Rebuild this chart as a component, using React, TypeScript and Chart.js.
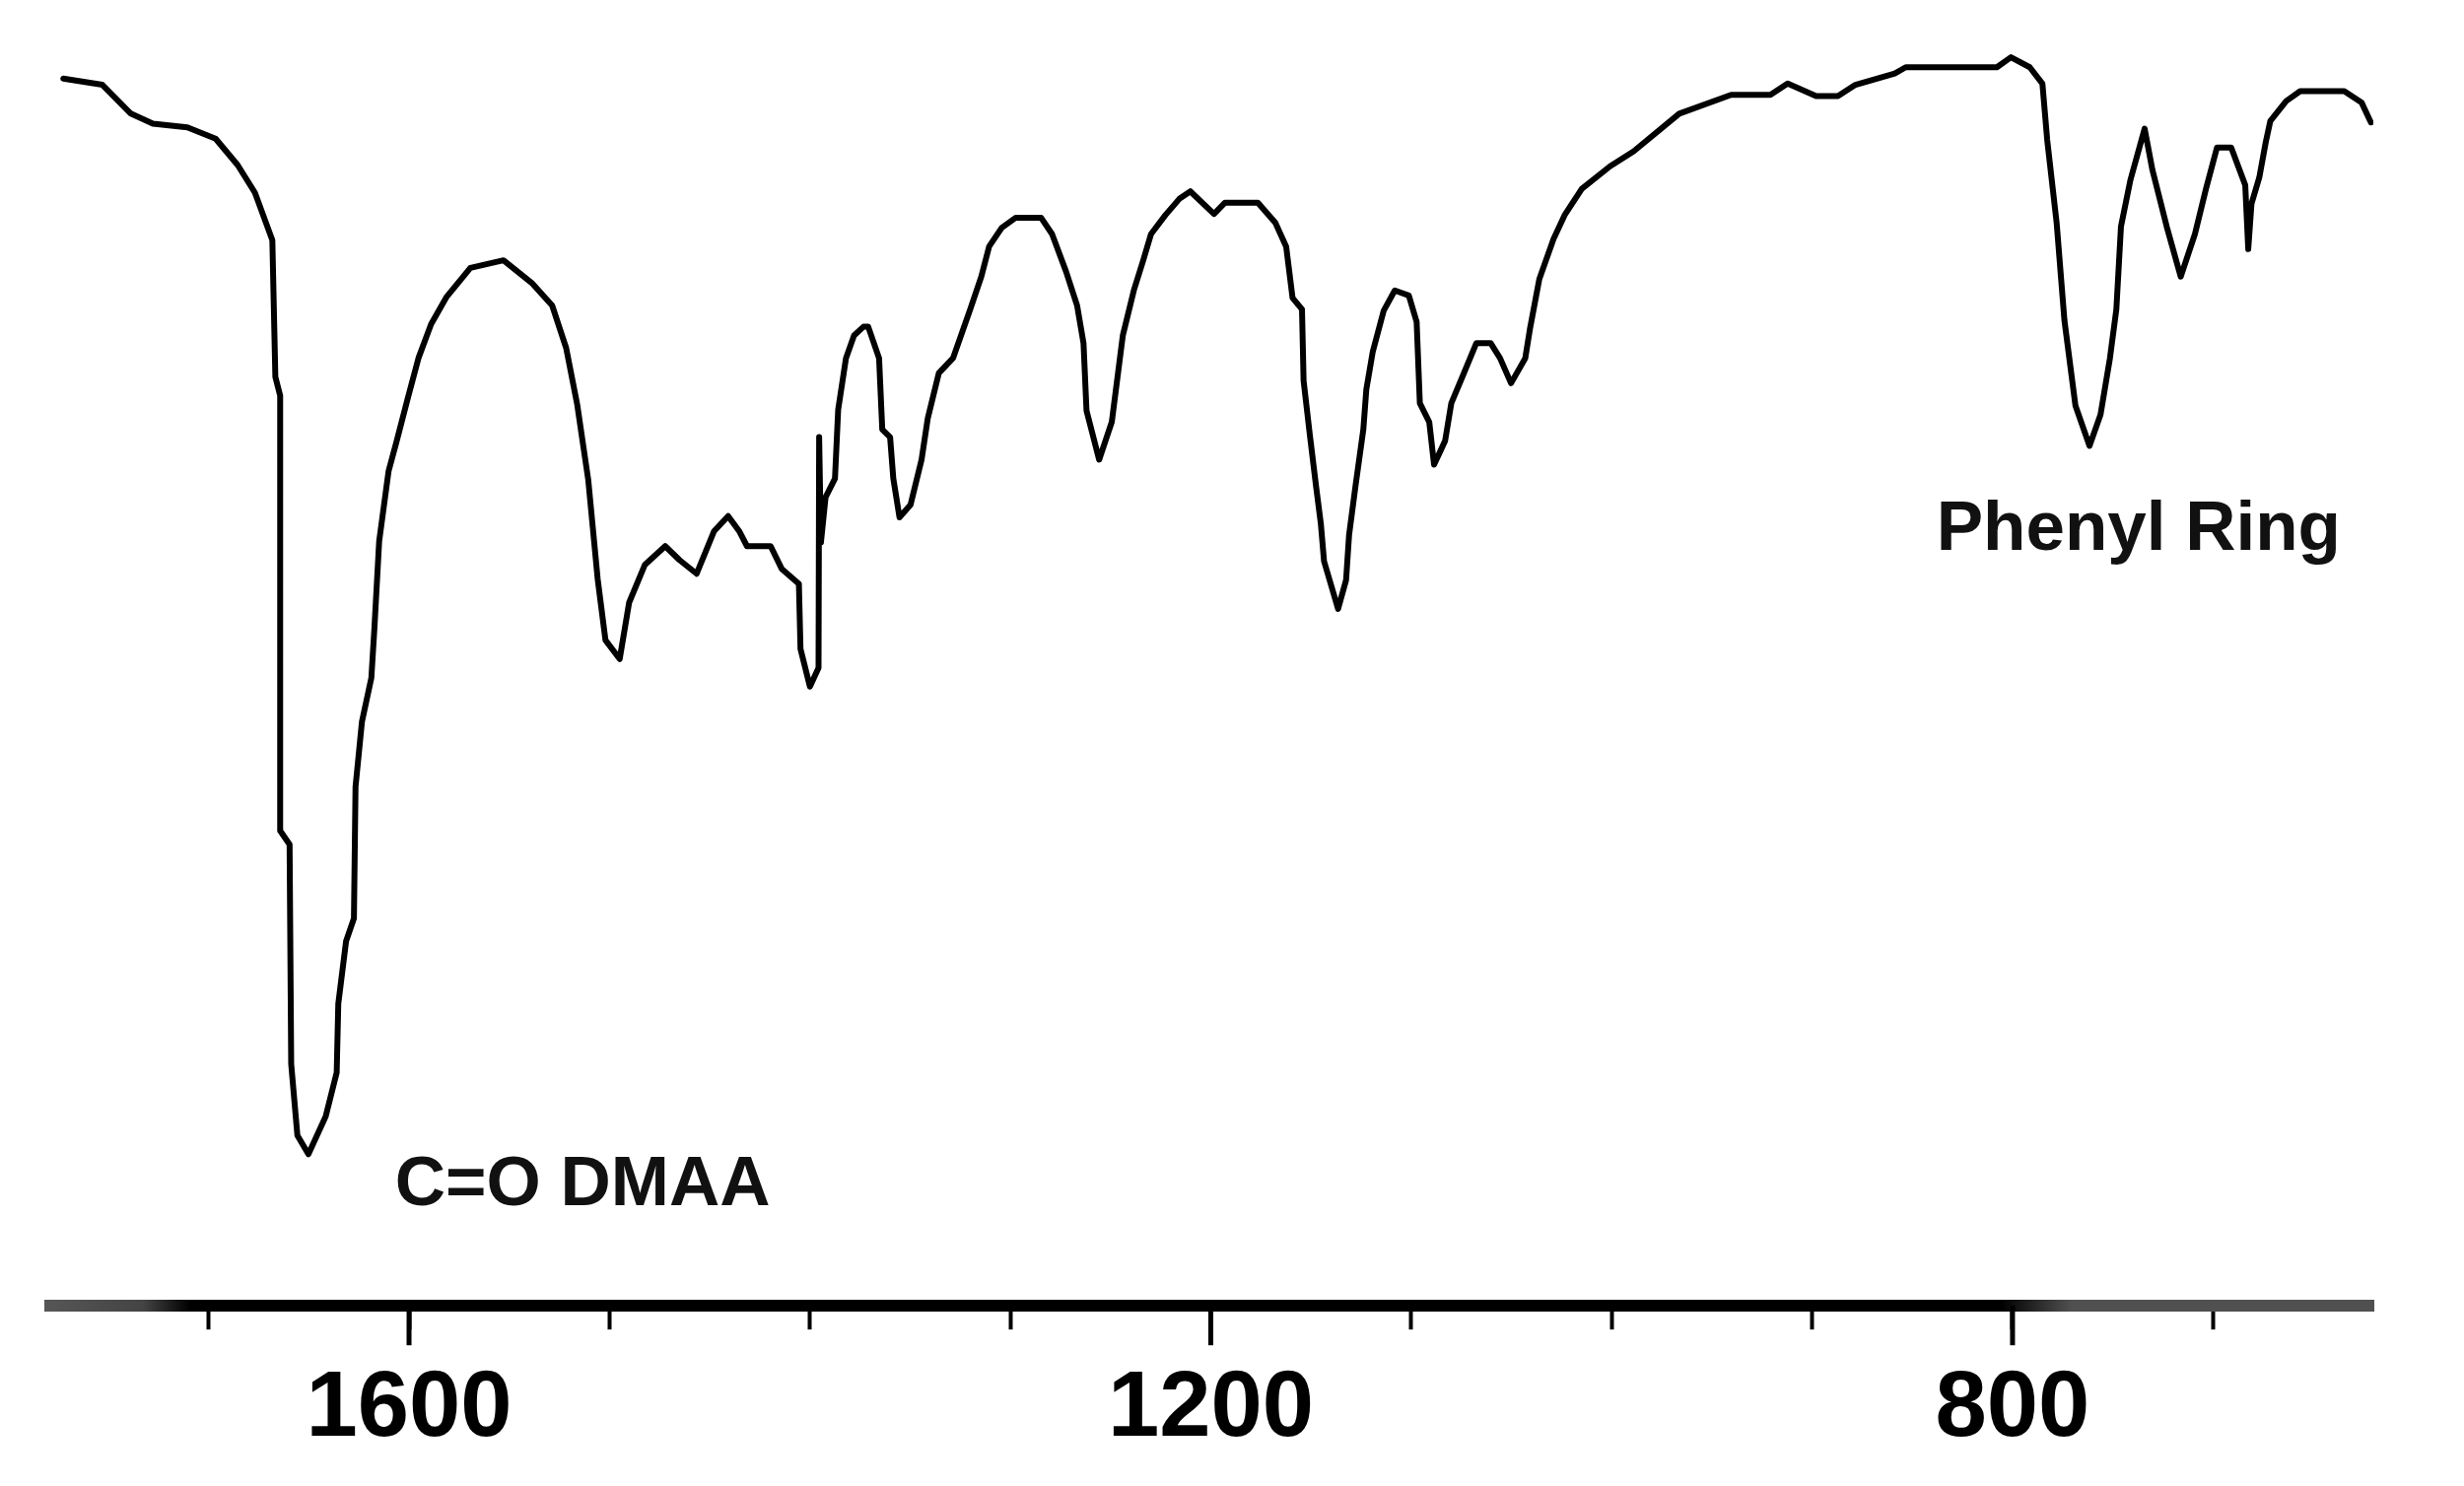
import React, { useEffect, useRef } from "react";
import { Chart, registerables } from "chart.js";

Chart.register(...registerables);

// Wavenumber (cm-1) of each traced point of the spectrum
const WAVENUMBER = [
  1772.5, 1753.0, 1738.8, 1727.8, 1710.6, 1696.5, 1685.5, 1676.9, 1668.2, 1666.7,
  1664.3, 1664.3, 1664.3, 1659.6, 1658.8, 1655.7, 1650.2, 1641.6, 1636.1, 1635.3,
  1631.4, 1627.5, 1626.7, 1623.5, 1618.8, 1617.3, 1614.9, 1610.2, 1606.3, 1600.8,
  1595.3, 1589.0, 1581.2, 1569.4, 1552.9, 1538.8, 1528.6, 1521.6, 1516.1, 1510.6,
  1505.9, 1502.0, 1494.9, 1490.2, 1482.4, 1472.2, 1465.1, 1456.5, 1447.8, 1440.8,
  1435.3, 1431.4, 1419.6, 1414.1, 1405.5, 1404.7, 1400.0, 1395.7, 1395.4, 1394.5,
  1392.2, 1387.5, 1385.9, 1382.0, 1378.0, 1373.3, 1370.9, 1365.5, 1363.9, 1360.0,
  1358.4, 1355.3, 1349.8, 1344.3, 1341.2, 1335.7, 1328.6, 1320.0, 1314.5, 1310.6,
  1304.3, 1297.3, 1284.7, 1279.2, 1272.2, 1266.7, 1263.5, 1262.0, 1255.7, 1249.4,
  1243.9, 1238.4, 1233.7, 1229.8, 1222.7, 1215.7, 1210.2, 1198.4, 1192.9, 1176.5,
  1167.8, 1162.4, 1159.2, 1154.5, 1153.7, 1150.6, 1147.5, 1145.1, 1143.5, 1136.5,
  1132.5, 1131.0, 1127.8, 1123.9, 1122.4, 1119.2, 1113.7, 1108.2, 1101.2, 1097.3,
  1095.7, 1091.0, 1088.6, 1083.1, 1080.0, 1074.5, 1067.5, 1060.4, 1055.7, 1050.2,
  1043.1, 1040.8, 1036.1, 1029.0, 1023.5, 1014.9, 1000.8, 989.0, 966.3, 940.4,
  920.8, 912.2, 898.0, 887.1, 878.4, 858.8, 853.3, 807.8, 800.8, 791.4,
  785.1, 782.7, 778.0, 774.1, 768.6, 761.6, 756.1, 751.4, 748.2, 745.9,
  741.2, 734.1, 730.2, 723.1, 716.1, 709.0, 703.5, 698.0, 690.9, 683.9,
  682.4, 680.8, 676.9, 673.7, 671.4, 663.5, 656.5, 634.5, 625.9, 621.2,
];

// Transmittance (arbitrary %) at each wavenumber above
const TRANSMITTANCE = [
  97.9, 97.4, 95.1, 94.3, 94.0, 93.1, 91.0, 88.8, 85.0, 74.1,
  72.6, 57.1, 37.9, 36.8, 19.3, 13.6, 12.1, 15.1, 18.6, 24.1,
  29.1, 30.9, 41.4, 46.6, 50.1, 54.0, 61.0, 66.6, 68.9, 72.3,
  75.6, 78.3, 80.5, 82.8, 83.4, 81.6, 79.8, 76.4, 71.9, 65.9,
  58.0, 53.1, 51.6, 56.1, 59.1, 60.6, 59.5, 58.4, 61.8, 63.0,
  61.8, 60.6, 60.6, 58.8, 57.6, 52.4, 49.4, 50.9, 69.3, 60.9,
  64.5, 66.0, 71.5, 75.6, 77.4, 78.1, 78.1, 75.6, 69.9, 69.3,
  66.0, 62.9, 63.9, 67.5, 70.8, 74.4, 75.6, 79.5, 82.1, 84.5,
  86.0, 86.8, 86.8, 85.5, 82.5, 79.8, 76.8, 71.4, 67.5, 70.5,
  77.4, 81.0, 83.4, 85.5, 87.0, 88.3, 88.9, 87.1, 88.0, 88.0,
  86.4, 84.5, 80.4, 79.5, 73.8, 69.5, 65.4, 62.4, 59.4, 55.6,
  57.9, 61.5, 65.4, 69.9, 73.1, 76.1, 79.4, 81.0, 80.6, 78.5,
  72.0, 70.5, 67.1, 69.0, 72.0, 74.1, 76.8, 76.8, 75.6, 73.6,
  75.6, 77.9, 81.9, 85.1, 87.0, 89.1, 90.9, 92.1, 95.1, 96.6,
  96.6, 97.5, 96.5, 96.5, 97.4, 98.3, 98.8, 98.8, 99.6, 98.8,
  97.5, 93.0, 86.4, 78.6, 71.8, 68.6, 71.1, 75.6, 79.5, 86.1,
  89.8, 93.9, 90.6, 86.1, 82.1, 85.5, 89.1, 92.4, 92.4, 89.4,
  84.3, 87.9, 90.0, 92.8, 94.5, 96.1, 96.9, 96.9, 96.0, 94.4,
];

// Axis ticks
const TICK_VALUES = [1700, 1600, 1500, 1400, 1300, 1200, 1100, 1000, 900, 800, 700];
const MAJOR_TICKS = [1600, 1200, 800];

// Annotation texts and their anchor (wavenumber, transmittance)
const ANNOTATION_TEXT = ["C=O DMAA", "Phenyl Ring"];
const ANNOTATION_X = [1607, 838];
const ANNOTATION_Y = [8.0, 60.3];

const X_MIN = 620;
const X_MAX = 1779;

export default function App() {
  const canvasRef = useRef<HTMLCanvasElement | null>(null);

  useEffect(() => {
    const canvas = canvasRef.current;
    if (!canvas) return;
    const ctx = canvas.getContext("2d");
    if (!ctx) return;

    const grad = ctx.createLinearGradient(51, 0, 2408, 0);
    grad.addColorStop(0, "#555");
    grad.addColorStop(0.04, "#444");
    grad.addColorStop(0.06, "#000");
    grad.addColorStop(0.84, "#000");
    grad.addColorStop(0.87, "#505050");
    grad.addColorStop(1, "#505050");

    const overlay = {
      id: "overlay",
      afterDraw(chart: any) {
        const c = chart.ctx;
        const xs = chart.scales.x;
        const ys = chart.scales.y;
        const bottom = chart.chartArea.bottom;
        c.save();
        c.strokeStyle = "#000";
        c.lineWidth = 5;
        MAJOR_TICKS.forEach((v) => {
          const px = xs.getPixelForValue(v);
          c.beginPath();
          c.moveTo(px, bottom);
          c.lineTo(px, bottom + 40);
          c.stroke();
        });
        c.fillStyle = "#111";
        c.font = 'bold 71px "Liberation Sans", Arial, sans-serif';
        c.textAlign = "left";
        c.textBaseline = "alphabetic";
        ANNOTATION_TEXT.forEach((t, i) => {
          c.fillText(t, xs.getPixelForValue(ANNOTATION_X[i]), ys.getPixelForValue(ANNOTATION_Y[i]));
        });
        c.restore();
      },
    };

    const points = WAVENUMBER.map((w, i) => ({ x: w, y: TRANSMITTANCE[i] }));

    const chart = new Chart(ctx, {
      type: "line",
      data: {
        datasets: [
          {
            data: points,
            borderColor: "#000",
            borderWidth: 6,
            borderJoinStyle: "round",
            borderCapStyle: "round",
            pointRadius: 0,
            tension: 0,
            fill: false,
          },
        ],
      },
      options: {
        animation: false,
        responsive: false,
        devicePixelRatio: 1,
        parsing: false as any,
        layout: { padding: { left: 51, right: 92, top: 53, bottom: 0 } },
        plugins: { legend: { display: false }, tooltip: { enabled: false } },
        scales: {
          x: {
            type: "linear",
            reverse: true,
            min: X_MIN,
            max: X_MAX,
            afterBuildTicks: (scale: any) => {
              scale.ticks = TICK_VALUES.map((v) => ({ value: v }));
            },
            border: { display: true, color: grad as any, width: 12 },
            grid: {
              display: true,
              drawOnChartArea: false,
              drawTicks: true,
              tickLength: 24,
              tickWidth: 4,
              tickColor: "#000",
            },
            ticks: {
              autoSkip: false,
              maxRotation: 0,
              minRotation: 0,
              padding: 25,
              color: "#000",
              font: { family: "'Liberation Sans', Arial, sans-serif", size: 94, weight: "bold", lineHeight: 1.2 },
              callback: (v: any) => (MAJOR_TICKS.includes(Number(v)) ? String(v) : ""),
            },
          },
          y: {
            display: false,
            min: 0,
            max: 100,
          },
        },
      },
      plugins: [overlay],
    });

    return () => chart.destroy();
  }, []);

  return (
    <div style={{ position: "fixed", left: 0, top: 0, width: 2500, height: 1512, background: "#fff", overflow: "hidden" }}>
      <canvas ref={canvasRef} width={2500} height={1512} style={{ width: 2500, height: 1512, display: "block" }} />
    </div>
  );
}
